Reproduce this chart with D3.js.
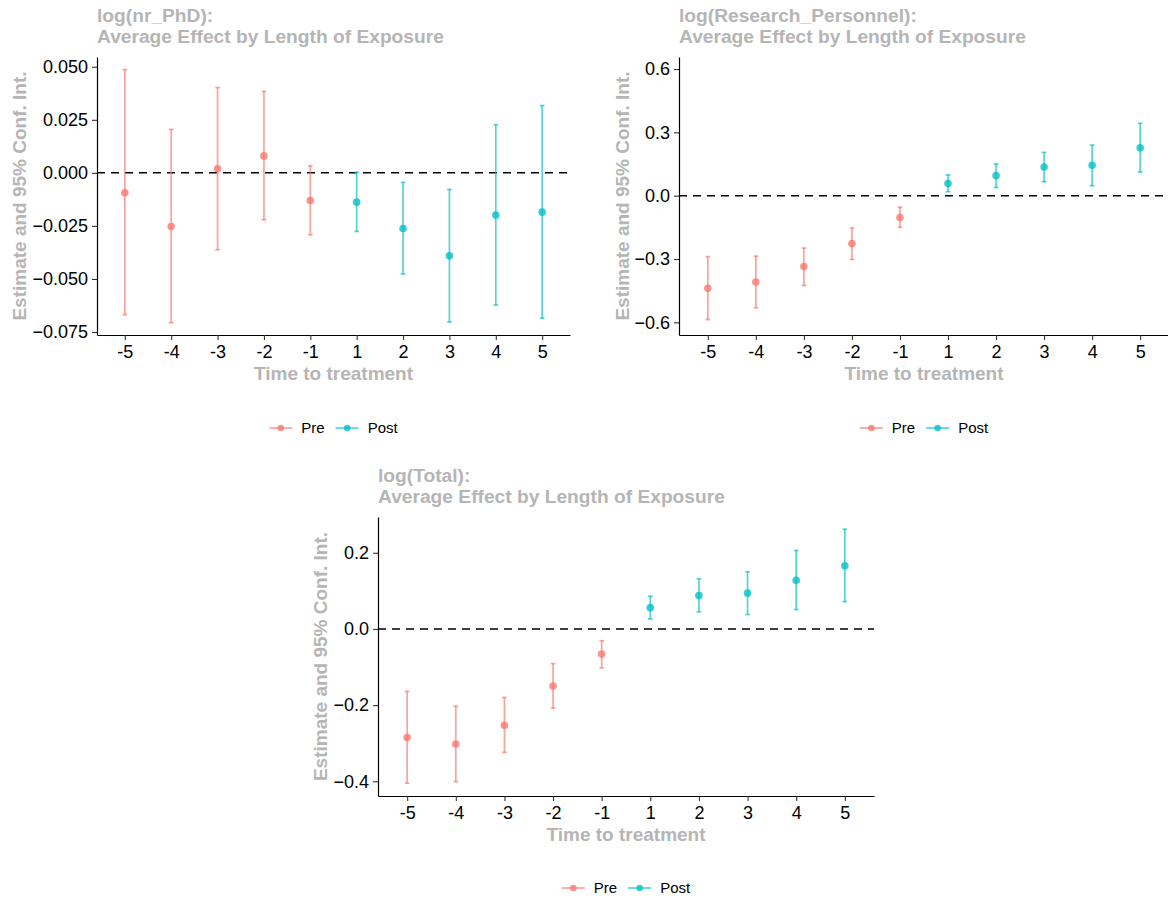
<!DOCTYPE html>
<html>
<head>
<meta charset="utf-8">
<script src="https://cdn.jsdelivr.net/npm/d3@7"></script>
<style>
  body { margin: 0; background: #ffffff; }
  text { font-family: "Liberation Sans", Arial, Helvetica, sans-serif; }
</style>
</head>
<body>
<svg id="fig" width="1168" height="900"></svg>
<script>
// Event-study periods and the two groups (before / after treatment)
const periods = ["-5", "-4", "-3", "-2", "-1", "1", "2", "3", "4", "5"];
const groups = ["Pre", "Post"];
const groupColors = ["#F8766D", "#00BFC4"];

// log(nr_PhD)
const phdEstimate = [-0.0094, -0.0253, 0.0019, 0.0080, -0.0130, -0.0138, -0.0262, -0.0391, -0.0199, -0.0185];
const phdLower    = [-0.0668, -0.0706, -0.0362, -0.0221, -0.0292, -0.0276, -0.0477, -0.0703, -0.0623, -0.0685];
const phdUpper    = [0.0486, 0.0205, 0.0402, 0.0384, 0.0033, 0.0003, -0.0045, -0.0078, 0.0227, 0.0317];
const phdTicks    = [-0.075, -0.05, -0.025, 0, 0.025, 0.05];
const phdLimits   = [-0.0764, 0.0546];

// log(Research_Personnel)
const resEstimate = [-0.439, -0.409, -0.336, -0.227, -0.103, 0.058, 0.095, 0.136, 0.144, 0.227];
const resLower    = [-0.587, -0.531, -0.425, -0.302, -0.150, 0.019, 0.039, 0.066, 0.047, 0.112];
const resUpper    = [-0.289, -0.286, -0.248, -0.153, -0.055, 0.098, 0.150, 0.205, 0.240, 0.343];
const resTicks    = [-0.6, -0.3, 0, 0.3, 0.6];
const resLimits   = [-0.660, 0.657];

// log(Total)
const totEstimate = [-0.285, -0.302, -0.253, -0.150, -0.066, 0.056, 0.088, 0.094, 0.128, 0.166];
const totLower    = [-0.405, -0.401, -0.324, -0.208, -0.102, 0.026, 0.045, 0.038, 0.051, 0.072];
const totUpper    = [-0.164, -0.203, -0.180, -0.091, -0.031, 0.086, 0.132, 0.150, 0.206, 0.262];
const totTicks    = [-0.4, -0.2, 0, 0.2];
const totLimits   = [-0.4386, 0.294];

const titleLine2 = "Average Effect by Length of Exposure";
const xTitle = "Time to treatment";
const yTitle = "Estimate and 95% Conf. Int.";

// Panel frames (plot-area boxes in pixels)
const panels = [
  { title: "log(nr_PhD):", est: phdEstimate, lo: phdLower, hi: phdUpper, ticks: phdTicks, limits: phdLimits,
    fmt: d3.format(".3f"), left: 97, right: 570, top: 57, bottom: 335, yTitleX: 19, legendY: 428 },
  { title: "log(Research_Personnel):", est: resEstimate, lo: resLower, hi: resUpper, ticks: resTicks, limits: resLimits,
    fmt: d3.format(".1f"), left: 679, right: 1169, top: 57, bottom: 335, yTitleX: 622, legendY: 428 },
  { title: "log(Total):", est: totEstimate, lo: totLower, hi: totUpper, ticks: totTicks, limits: totLimits,
    fmt: d3.format(".1f"), left: 378, right: 874, top: 517, bottom: 796, yTitleX: 320, legendY: 888 }
];

const grey = "#b5b5b5";
const svg = d3.select("#fig");
svg.append("rect").attr("width", 1168).attr("height", 900).attr("fill", "#ffffff");

panels.forEach(p => {
  const g = svg.append("g");
  const x = d3.scalePoint().domain(periods).range([p.left, p.right]).padding(0.6);
  const y = d3.scaleLinear().domain(p.limits).range([p.bottom, p.top]);
  const rows = periods.map((k, i) => ({ k, est: p.est[i], lo: p.lo[i], hi: p.hi[i], grp: +k < 0 ? 0 : 1 }));

  // title
  const t = g.append("text").attr("x", p.left).attr("y", p.top - 35)
    .attr("fill", grey).attr("font-weight", "bold").attr("font-size", 19.2);
  t.append("tspan").attr("x", p.left).text(p.title);
  t.append("tspan").attr("x", p.left).attr("dy", 20.5).text(titleLine2);

  // reference line at zero
  g.append("line")
    .attr("x1", p.left).attr("x2", p.right)
    .attr("y1", y(0)).attr("y2", y(0))
    .attr("stroke", "#000").attr("stroke-width", 1.5)
    .attr("stroke-dasharray", "8,6");

  // confidence intervals
  const bars = g.append("g").selectAll("g").data(rows).join("g")
    .attr("stroke", d => groupColors[d.grp]).attr("stroke-opacity", 0.68).attr("stroke-width", 1.7);
  bars.append("line").attr("x1", d => x(d.k)).attr("x2", d => x(d.k))
    .attr("y1", d => y(d.lo)).attr("y2", d => y(d.hi));
  bars.append("line").attr("x1", d => x(d.k) - 2.3).attr("x2", d => x(d.k) + 2.3)
    .attr("y1", d => y(d.lo)).attr("y2", d => y(d.lo));
  bars.append("line").attr("x1", d => x(d.k) - 2.3).attr("x2", d => x(d.k) + 2.3)
    .attr("y1", d => y(d.hi)).attr("y2", d => y(d.hi));

  // point estimates
  g.append("g").selectAll("circle").data(rows).join("circle")
    .attr("cx", d => x(d.k)).attr("cy", d => y(d.est)).attr("r", 3.8)
    .attr("fill", d => groupColors[d.grp]).attr("fill-opacity", 0.78);

  // axes
  const ya = g.append("g").attr("transform", `translate(${p.left},0)`)
    .call(d3.axisLeft(y).tickValues(p.ticks).tickFormat(p.fmt).tickSize(5).tickSizeOuter(0).tickPadding(4));
  const xa = g.append("g").attr("transform", `translate(0,${p.bottom})`)
    .call(d3.axisBottom(x).tickSize(5).tickSizeOuter(0).tickPadding(5));
  [ya, xa].forEach(a => {
    a.select(".domain").attr("stroke", "#000").attr("stroke-width", 1.2);
    a.selectAll(".tick line").attr("stroke", "#333").attr("stroke-width", 1.1);
    a.selectAll(".tick text").attr("fill", "#000").attr("font-size", 18)
      .attr("font-family", "'Liberation Sans', Arial, sans-serif");
  });

  // axis titles
  g.append("text").attr("x", (p.left + p.right) / 2).attr("y", p.bottom + 45)
    .attr("text-anchor", "middle").attr("fill", grey).attr("font-weight", "bold").attr("font-size", 19)
    .text(xTitle);
  g.append("text")
    .attr("transform", `translate(${p.yTitleX},${(p.top + p.bottom) / 2}) rotate(-90)`)
    .attr("text-anchor", "middle").attr("dy", "0.35em")
    .attr("fill", grey).attr("font-weight", "bold").attr("font-size", 19)
    .text(yTitle);

  // legend
  const lg = g.append("g");
  let cursor = 0;
  groups.forEach((name, i) => {
    const item = lg.append("g").attr("transform", `translate(${cursor},0)`);
    item.append("line").attr("x1", 0).attr("x2", 23).attr("y1", 0).attr("y2", 0)
      .attr("stroke", groupColors[i]).attr("stroke-opacity", 0.68).attr("stroke-width", 1.7);
    item.append("circle").attr("cx", 11.5).attr("cy", 0).attr("r", 3.3)
      .attr("fill", groupColors[i]).attr("fill-opacity", 0.78);
    const txt = item.append("text").attr("x", 32).attr("dy", "0.35em")
      .attr("font-size", 15).attr("fill", "#000").text(name);
    cursor += 32 + txt.node().getComputedTextLength() + 11;
  });
  const legendWidth = cursor - 11;
  lg.attr("transform", `translate(${(p.left + p.right) / 2 - legendWidth / 2},${p.legendY})`);
});
</script>
</body>
</html>
